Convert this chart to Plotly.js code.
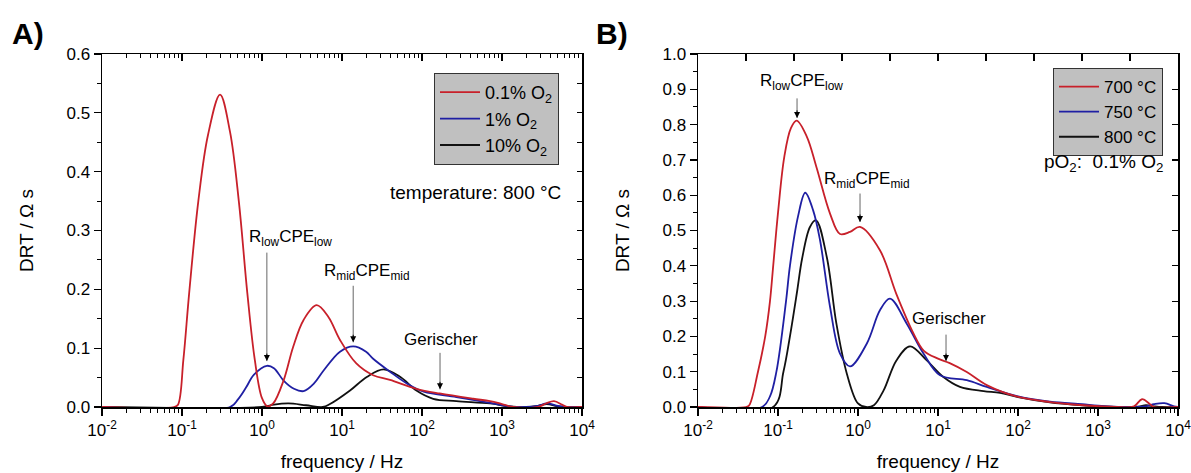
<!DOCTYPE html>
<html>
<head>
<meta charset="utf-8">
<script src="https://cdn.plot.ly/plotly-3.0.1.min.js"></script>
<style>html,body{margin:0;padding:0;background:#fff;}#chart{width:1191px;height:473px;}</style>
</head>
<body>
<div id="chart"></div>
<script>
// ---------- Panel A: 800 °C, different pO2 ----------
const freqA_01 = [0.01,0.0794,0.0891,0.104,0.123,0.160,0.211,0.299,0.398,0.513,0.655,0.813,1.0,1.17,1.38,1.86,2.45,3.31,4.82,6.76,9.44,15.1,24.5,39.8,85.1,166,437,708,1000,1380,2818,3548,4467,5623,6457,10000];
const drtA_01  = [0,0,0.004,0.08,0.194,0.350,0.462,0.531,0.468,0.350,0.194,0.08,0.015,0.001,0.006,0.045,0.102,0.148,0.173,0.153,0.114,0.074,0.054,0.046,0.031,0.023,0.014,0.010,0.005,0,0,0.006,0.010,0.004,0,0];

const freqA_1 = [0.01,0.398,0.501,0.631,0.794,1.15,1.41,1.86,2.51,3.31,4.47,5.89,9.44,13.8,20.0,24.5,39.8,64.6,105,269,708,1000,1585,2818,3631,5012,6310,10000];
const drtA_1  = [0,0,0.013,0.033,0.055,0.070,0.066,0.045,0.031,0.027,0.040,0.062,0.094,0.103,0.094,0.082,0.060,0.040,0.026,0.017,0.007,0.003,0,0.002,0.006,0.002,0,0];

const freqA_10 = [0.01,1.0,1.41,2.14,3.55,5.75,7.08,12.6,20.4,33.1,53.7,85.1,138,269,708,1259,1995,2818,3631,5012,6310,10000];
const drtA_10  = [0,0,0.004,0.006,0.003,0,0.005,0.028,0.051,0.064,0.051,0.028,0.014,0.010,0.006,0.001,0,0.002,0.005,0.001,0,0];

// ---------- Panel B: pO2 0.1 %, different temperatures ----------
const freqB_700 = [0.01,0.0398,0.0437,0.0562,0.0692,0.0794,0.0871,0.1,0.120,0.145,0.171,0.229,0.302,0.447,0.596,0.794,1.06,1.88,3.02,4.90,6.61,10,13.8,22.9,40.7,95.5,251,661,1698,2818,3548,4467,5012,10000];
const drtB_700  = [0,0,0.005,0.1,0.2,0.3,0.4,0.55,0.709,0.79,0.811,0.766,0.68,0.548,0.49,0.496,0.51,0.444,0.32,0.21,0.16,0.137,0.125,0.099,0.062,0.030,0.014,0.005,0,0.002,0.022,0.008,0,0];

const freqB_750 = [0.01,0.0631,0.0794,0.0955,0.126,0.141,0.178,0.219,0.275,0.335,0.447,0.596,0.794,1.29,1.88,2.51,4.07,6.61,10.6,22.9,40.7,100,251,631,1000,1995,3981,5012,6761,8913,10000];
const drtB_750  = [0,0,0.03,0.1,0.3,0.4,0.54,0.607,0.557,0.473,0.284,0.151,0.115,0.18,0.274,0.307,0.236,0.151,0.09,0.076,0.057,0.030,0.015,0.008,0.004,0,0.002,0.008,0.011,0.002,0];

const freqB_800 = [0.01,0.0871,0.117,0.141,0.174,0.2,0.251,0.299,0.407,0.537,0.724,1.0,1.26,1.58,2.09,3.02,4.47,7.24,11.7,18.8,37.2,59.6,100,251,631,1585,3162,3981,5012,6310,10000];
const drtB_800  = [0,0,0.1,0.2,0.33,0.42,0.51,0.529,0.425,0.236,0.095,0.01,0,0.005,0.047,0.132,0.172,0.132,0.085,0.057,0.045,0.040,0.028,0.013,0.005,0,0.001,0.005,0.002,0,0];

const decadeVals = [0.01,0.1,1,10,100,1000,10000];
const decadeText = ['10<sup>-2</sup>','10<sup>-1</sup>','10<sup>0</sup>','10<sup>1</sup>','10<sup>2</sup>','10<sup>3</sup>','10<sup>4</sup>'];
const namesA = ['0.1% O<sub>2</sub>','1% O<sub>2</sub>','10% O<sub>2</sub>'];
const namesB = ['700 °C','750 °C','800 °C'];

const RED = '#c8202a', BLUE = '#1f1fa3', BLACK = '#111111';
const FONT = 'Liberation Sans, Arial, sans-serif';

function tr(x, y, name, color, xa, ya, leg) {
  return {x: x, y: y, name: name, type: 'scatter', mode: 'lines',
    line: {color: color, width: 1.8, shape: 'spline', smoothing: 1},
    xaxis: xa, yaxis: ya, legend: leg, hoverinfo: 'skip'};
}

const data = [
  tr(freqA_10, drtA_10, namesA[2], BLACK, 'x', 'y', 'legend'),
  tr(freqA_1, drtA_1, namesA[1], BLUE, 'x', 'y', 'legend'),
  tr(freqA_01, drtA_01, namesA[0], RED, 'x', 'y', 'legend'),
  tr(freqB_800, drtB_800, namesB[2], BLACK, 'x2', 'y2', 'legend2'),
  tr(freqB_750, drtB_750, namesB[1], BLUE, 'x2', 'y2', 'legend2'),
  tr(freqB_700, drtB_700, namesB[0], RED, 'x2', 'y2', 'legend2'),
  {x: [], y: [], xaxis: 'x3', yaxis: 'y3', type: 'scatter', showlegend: false},
  {x: [], y: [], xaxis: 'x4', yaxis: 'y4', type: 'scatter', showlegend: false}
];

const domA = [102/1191, 582/1191], domB = [698/1191, 1178/1191];
const domY = [(473-407)/473, (473-54)/473];

function xLog(dom, anchor) {
  return {type: 'log', range: [-2, 4], domain: dom, anchor: anchor,
    tickmode: 'array', tickvals: decadeVals, ticktext: decadeText, ticklabeloverflow: 'allow',
    ticks: 'outside', ticklen: 7, tickwidth: 1.2, tickcolor: '#000',
    minor: {dtick: 'D1', ticks: 'outside', ticklen: 4, tickwidth: 1, tickcolor: '#000'},
    showline: true, linecolor: '#000', linewidth: 1.5, showgrid: false, zeroline: false,
    tickfont: {family: FONT, size: 17, color: '#000'},
    title: {text: 'frequency / Hz', font: {family: FONT, size: 19, color: '#000'}, standoff: 16}};
}
function yLin(dom, anchor, max) {
  return {range: [0, max], domain: dom, anchor: anchor, dtick: 0.1, tickformat: '.1f',
    ticks: 'outside', ticklen: 7, tickwidth: 1.2, tickcolor: '#000',
    minor: {dtick: 0.05, ticks: 'outside', ticklen: 4, tickwidth: 1, tickcolor: '#000'},
    showline: true, linecolor: '#000', linewidth: 1.5, showgrid: false, zeroline: false,
    tickfont: {family: FONT, size: 17, color: '#000'},
    title: {text: 'DRT / Ω s', font: {family: FONT, size: 19, color: '#000'}, standoff: 28}};
}

const layout = {
  width: 1191, height: 473, margin: {l: 0, r: 0, t: 0, b: 0},
  paper_bgcolor: '#fff', plot_bgcolor: '#fff', font: {family: FONT, color: '#000'},
  hovermode: false,
  xaxis: xLog(domA, 'y'),
  yaxis: yLin(domY, 'x', 0.6),
  xaxis2: xLog(domB, 'y2'),
  yaxis2: yLin(domY, 'x2', 1.0),
  // mirrored frames with inward ticks
  xaxis3: {type: 'log', range: [-2, 4], overlaying: 'x', anchor: 'y3', side: 'top',
    tickmode: 'array', tickvals: decadeVals, showticklabels: false,
    ticks: 'inside', ticklen: 7, tickwidth: 1.2, tickcolor: '#000',
    minor: {dtick: 'D1', ticks: 'inside', ticklen: 4, tickwidth: 1, tickcolor: '#000'},
    showline: true, linecolor: '#000', linewidth: 1.5, showgrid: false, zeroline: false},
  yaxis3: {range: [0, 0.6], overlaying: 'y', anchor: 'x3', side: 'right', dtick: 0.05,
    showticklabels: false, ticks: 'inside', ticklen: 5, tickwidth: 1, tickcolor: '#000',
    showline: true, linecolor: '#000', linewidth: 1.5, showgrid: false, zeroline: false},
  xaxis4: {range: [0, 10], overlaying: 'x2', anchor: 'y4', side: 'top', dtick: 1,
    showticklabels: false, ticks: 'inside', ticklen: 7, tickwidth: 1.2, tickcolor: '#000',
    showline: true, linecolor: '#000', linewidth: 1.5, showgrid: false, zeroline: false},
  yaxis4: {range: [0, 1], overlaying: 'y2', anchor: 'x4', side: 'right', dtick: 0.1,
    showticklabels: false, ticks: 'inside', ticklen: 6, tickwidth: 1.2, tickcolor: '#000',
    showline: true, linecolor: '#000', linewidth: 1.5, showgrid: false, zeroline: false},
  legend: {x: 559/1191, xanchor: 'right', y: 1 - 73/473, yanchor: 'top',
    bgcolor: '#c0c0c0', bordercolor: '#333', borderwidth: 1, traceorder: 'reversed',
    font: {family: FONT, size: 18, color: '#000'}, itemwidth: 40, tracegroupgap: 0},
  legend2: {x: 1163/1191, xanchor: 'right', y: 1 - 68/473, yanchor: 'top',
    bgcolor: '#c0c0c0', bordercolor: '#333', borderwidth: 1, traceorder: 'reversed',
    font: {family: FONT, size: 17, color: '#000'}, itemwidth: 40, tracegroupgap: 0},
  annotations: []
};

function label(xref, yref, x, y, text, size, anchor) {
  return {xref: xref, yref: yref, x: x, y: y, text: text, showarrow: false,
    xanchor: anchor || 'center', yanchor: 'middle', font: {family: FONT, size: size, color: '#000'}};
}
function arrow(xref, yref, x, y, len) {
  return [
    {xref: xref, yref: yref, x: x, y: y, text: '', showarrow: true, arrowhead: 0,
     arrowwidth: 1, arrowcolor: '#666', ax: 0, ay: -len, standoff: 0},
    {xref: xref, yref: yref, x: x, y: y, text: '', showarrow: true, arrowhead: 2,
     arrowsize: 1.2, arrowwidth: 1, arrowcolor: '#000', ax: 0, ay: -9, standoff: 0}
  ];
}

const A = layout.annotations;
A.push(label('paper', 'paper', 10/1191, 1 - 33/473, '<b>A)</b>', 30, 'left'));
A.push(label('paper', 'paper', 594/1191, 1 - 33/473, '<b>B)</b>', 30, 'left'));
A.push(label('x', 'y', Math.log10(5800), 0.364, 'temperature: 800 °C', 19, 'right'));
A.push(label('x2', 'y2', Math.log10(6880), 0.691, 'pO<sub>2</sub>:  0.1% O<sub>2</sub>', 19, 'right'));
A.push(label('x', 'y', Math.log10(2.3), 0.287, 'R<sub>low</sub>CPE<sub>low</sub>', 17));
A.push(...arrow('x', 'y', Math.log10(1.15), 0.078, 110));
A.push(label('x', 'y', Math.log10(20.4), 0.229, 'R<sub>mid</sub>CPE<sub>mid</sub>', 17));
A.push(...arrow('x', 'y', Math.log10(13.8), 0.11, 58));
A.push(label('x', 'y', Math.log10(174), 0.114, 'Gerischer', 17));
A.push(...arrow('x', 'y', Math.log10(168), 0.030, 38));
A.push(label('x2', 'y2', Math.log10(0.197), 0.921, 'R<sub>low</sub>CPE<sub>low</sub>', 17));
A.push(...arrow('x2', 'y2', Math.log10(0.173), 0.819, 21));
A.push(label('x2', 'y2', Math.log10(1.3), 0.643, 'R<sub>mid</sub>CPE<sub>mid</sub>', 17));
A.push(...arrow('x2', 'y2', Math.log10(1.06), 0.524, 30));
A.push(label('x2', 'y2', Math.log10(13.7), 0.251, 'Gerischer', 17));
A.push(...arrow('x2', 'y2', Math.log10(12.6), 0.13, 28));

Plotly.newPlot('chart', data, layout, {staticPlot: true, displayModeBar: false});
</script>
</body>
</html>
